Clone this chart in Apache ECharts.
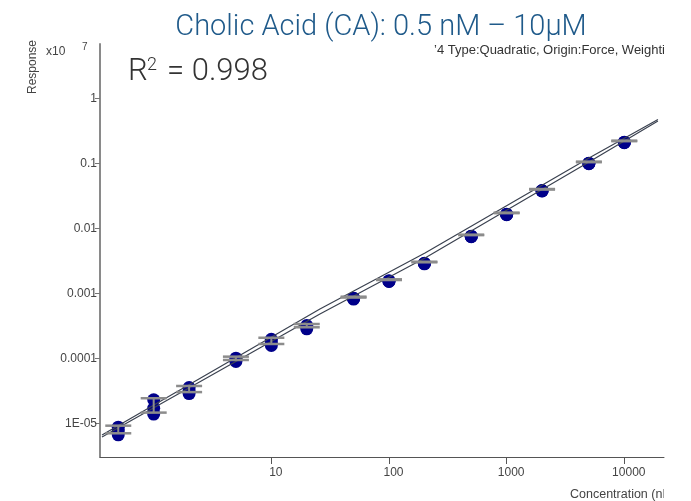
<!DOCTYPE html>
<html><head><meta charset="utf-8">
<script src="https://cdn.jsdelivr.net/npm/echarts@6/dist/echarts.min.js"></script>
<style>html,body{margin:0;padding:0;background:#fff}#c{width:691px;height:501px}</style>
</head><body><div id="c"></div>
<script>
// ---- data (response in x10^7 units) ----
const concentrations = [0.5, 1, 2, 5, 10, 20, 50, 100, 200, 500, 1000, 2000, 5000, 10000];
const replicateHigh = [9.19e-6, 2.43e-5, 3.75e-5, 1.06e-4, 2.07e-4, 3.37e-4, 8.87e-4, 1.64e-3, 3.06e-3, 7.97e-3, 1.74e-2, 4.02e-2, 0.106, 0.223];
const replicateMid  = [8.00e-6, 1.79e-5, 3.35e-5, 1.00e-4, 1.85e-4, 3.20e-4, 8.75e-4, 1.62e-3, 3.03e-3, 7.90e-3, 1.72e-2, 3.98e-2, 0.105, 0.221];
const replicateLow  = [7.02e-6, 1.46e-5, 3.02e-5, 9.42e-5, 1.66e-4, 3.00e-4, 8.60e-4, 1.60e-3, 3.00e-3, 7.85e-3, 1.71e-2, 3.95e-2, 0.104, 0.219];
const fitLineX      = [0.3636, 6.585, 25.88, 202.3, 5012, 19320];
const fitLineUpper  = [6.61e-6, 1.366e-4, 5.73e-4, 4.17e-3, 0.1207, 0.472];
const fitLineLower  = [6.15e-6, 1.186e-4, 4.80e-4, 3.49e-3, 0.1047, 0.4475];
const xTickValues = [10, 100, 1000, 10000];
const xTickLabels = ['10', '100', '1000', '10000'];
const yTickValues = [1e-5, 1e-4, 1e-3, 1e-2, 0.1, 1];
const yTickLabels = ['1E-05', '0.0001', '0.001', '0.01', '0.1', '1'];
const titleText = 'Cholic Acid (CA): 0.5 nM \u2013 10\u03BCM';
const r2Text = '0.998';
const fitInfoText = '\u20194 Type:Quadratic, Origin:Force, Weighting:None';

function labelFor(values, labels, v) {
  for (let i = 0; i < values.length; i++) {
    if (Math.abs(Math.log10(v) - Math.log10(values[i])) < 0.01) return labels[i];
  }
  return '';
}

const dots = [];
concentrations.forEach((c, i) => {
  dots.push([c, replicateHigh[i]]);
  dots.push([c, replicateMid[i]]);
  dots.push([c, replicateLow[i]]);
});
const errData = concentrations.map((c, i) => [c, Math.min(replicateHigh[i], replicateLow[i]), Math.max(replicateHigh[i], replicateLow[i])]);

const chart = echarts.init(document.getElementById('c'), null, {renderer: 'canvas'});
const labelFont = 'Liberation Sans, Arial, sans-serif';
chart.setOption({
  animation: false,
  backgroundColor: '#fff',
  grid: {left: 100, right: 27, top: 44, bottom: 44, containLabel: false},
  xAxis: {
    type: 'log', logBase: 10, min: 0.3497, max: 21750,
    axisLine: {show: true, lineStyle: {color: '#555', width: 1}},
    axisTick: {show: true, length: 7, lineStyle: {color: '#555', width: 1}, customValues: xTickValues},
    axisLabel: {customValues: xTickValues, margin: 10, color: '#444', fontSize: 12, fontFamily: labelFont,
      padding: [0, 0, 0, 9],
      formatter: v => labelFor(xTickValues, xTickLabels, v)},
    splitLine: {show: false}, minorTick: {show: false}
  },
  yAxis: {
    type: 'log', logBase: 10, min: 3.03e-6, max: 6.845,
    axisLine: {show: true, lineStyle: {color: '#8a8a8a', width: 2}},
    axisTick: {show: true, length: 5, lineStyle: {color: '#777', width: 1}, customValues: yTickValues},
    axisLabel: {customValues: yTickValues, margin: 3, color: '#444', fontSize: 12, fontFamily: labelFont,
      formatter: v => labelFor(yTickValues, yTickLabels, v)},
    splitLine: {show: false}, minorTick: {show: false}
  },
  series: [
    {type: 'scatter', data: dots, symbol: 'circle', symbolSize: 13, symbolOffset: [0, 1.5],
      itemStyle: {color: '#00008a', opacity: 1}, z: 2, silent: true},
    {type: 'line', data: fitLineX.map((x, i) => [x, fitLineUpper[i]]), symbol: 'none', smooth: false,
      lineStyle: {color: '#3b4250', width: 1.2}, z: 3, silent: true},
    {type: 'line', data: fitLineX.map((x, i) => [x, fitLineLower[i]]), symbol: 'none', smooth: false,
      lineStyle: {color: '#3b4250', width: 1.2}, z: 3, silent: true},
    {type: 'custom', data: errData, z: 4, silent: true,
      encode: {x: 0, y: [1, 2]},
      renderItem(params, api) {
        const x = api.value(0), lo = api.value(1), hi = api.value(2);
        const pLo = api.coord([x, lo]), pHi = api.coord([x, hi]);
        const hw = 13;
        const st = {stroke: '#8c8c8c', lineWidth: 2.5};
        return {type: 'group', children: [
          {type: 'line', shape: {x1: pLo[0] - hw, y1: pLo[1], x2: pLo[0] + hw, y2: pLo[1]}, style: st},
          {type: 'line', shape: {x1: pHi[0] - hw, y1: pHi[1], x2: pHi[0] + hw, y2: pHi[1]}, style: st},
          {type: 'line', shape: {x1: pLo[0], y1: pLo[1], x2: pHi[0], y2: pHi[1]}, style: {stroke: '#8c8c8c', lineWidth: 2}}
        ]};
      }
    }
  ],
  graphic: [
    {type: 'text', x: 381, y: 28, style: {text: titleText, font: '300 29px Roboto, sans-serif', fill: '#1f5a8a', textAlign: 'center', textVerticalAlign: 'middle'}},
    {type: 'text', x: 128, y: 88, style: {text: 'R', font: '300 31px Roboto, sans-serif', fill: '#333', textAlign: 'left', textVerticalAlign: 'bottom'}},
    {type: 'text', x: 147, y: 74, style: {text: '2', font: '300 18px Roboto, sans-serif', fill: '#333', textAlign: 'left', textVerticalAlign: 'bottom'}},
    {type: 'text', x: 167, y: 88, style: {text: '= ' + r2Text, font: '300 31px Roboto, sans-serif', fill: '#333', textAlign: 'left', textVerticalAlign: 'bottom'}},
    {type: 'text', x: 434, y: 50, style: {text: fitInfoText, font: '13px Liberation Sans, Arial, sans-serif', fill: '#333', textAlign: 'left', textVerticalAlign: 'middle'}},
    {type: 'text', x: 46, y: 52, style: {text: 'x10', font: '12px Liberation Sans, Arial, sans-serif', fill: '#444', textAlign: 'left', textVerticalAlign: 'middle'}},
    {type: 'text', x: 82, y: 47, style: {text: '7', font: '10px Liberation Sans, Arial, sans-serif', fill: '#444', textAlign: 'left', textVerticalAlign: 'middle'}},
    {type: 'text', x: 33, y: 67, rotation: Math.PI / 2, style: {text: 'Response', font: '12px Liberation Sans, Arial, sans-serif', fill: '#444', textAlign: 'center', textVerticalAlign: 'middle'}},
    {type: 'text', x: 570, y: 495, style: {text: 'Concentration (nM)', font: '12.5px Liberation Sans, Arial, sans-serif', fill: '#444', textAlign: 'left', textVerticalAlign: 'middle'}},
    {type: 'rect', z: 100, shape: {x: 664, y: 38, width: 27, height: 24}, style: {fill: '#fff'}},
    {type: 'rect', z: 100, shape: {x: 664, y: 484, width: 27, height: 17}, style: {fill: '#fff'}}
  ]
});
</script>
</body></html>
